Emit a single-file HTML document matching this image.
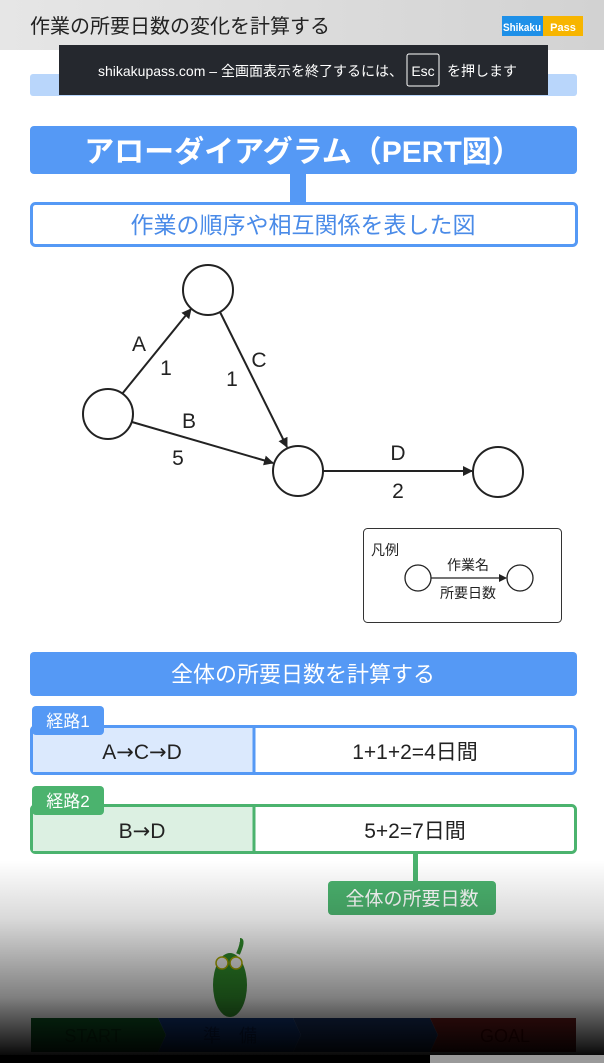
<!DOCTYPE html>
<html><head><meta charset="utf-8"><style>
html,body{margin:0;padding:0;width:604px;height:1063px;overflow:hidden;background:#fff}
svg{display:block}
text{font-family:"Liberation Sans","Noto Sans CJK JP",sans-serif}
.dj{font-family:"DejaVu Sans",sans-serif}
</style></head><body>
<svg width="604" height="1063" viewBox="0 0 604 1063" xmlns="http://www.w3.org/2000/svg">
<defs>
<linearGradient id="hd" x1="0" y1="0" x2="1" y2="0"><stop offset="0" stop-color="#e6e6e6"/><stop offset="1" stop-color="#d2d2d2"/></linearGradient>
<linearGradient id="fade" x1="0" y1="0" x2="0" y2="1"><stop offset="0" stop-color="#000" stop-opacity="0"/><stop offset="0.3" stop-color="#000" stop-opacity="0.15"/><stop offset="0.7" stop-color="#000" stop-opacity="0.5"/><stop offset="1" stop-color="#000" stop-opacity="0.97"/></linearGradient>
<marker id="ar" markerWidth="10" markerHeight="10" refX="9" refY="5" orient="auto" markerUnits="userSpaceOnUse"><path d="M0,0 L10,5 L0,10 z" fill="#222"/></marker>
<marker id="ar2" markerWidth="8" markerHeight="8" refX="7" refY="4" orient="auto" markerUnits="userSpaceOnUse"><path d="M0,0 L8,4 L0,8 z" fill="#222"/></marker>
</defs>
<rect x="0" y="0" width="604" height="50" fill="url(#hd)"/>
<text x="30" y="33" font-size="20" fill="#222">作業の所要日数の変化を計算する</text>
<rect x="502" y="16" width="41" height="20" fill="#1e90e8"/><rect x="543" y="16" width="40" height="20" fill="#f7b500"/>
<text x="522" y="31" font-size="11" font-weight="bold" fill="#fff" text-anchor="middle" textLength="38" lengthAdjust="spacingAndGlyphs">Shikaku</text><text x="563" y="31" font-size="11" font-weight="bold" fill="#fff" text-anchor="middle">Pass</text>
<rect x="30" y="74" width="547" height="22" rx="3" fill="#b9d6fb"/>
<rect x="59" y="45" width="489" height="50" fill="#25282e"/>
<text x="98" y="76" font-size="14" fill="#fff">shikakupass.com – 全画面表示を終了するには、</text>
<rect x="407" y="54" width="32" height="32" rx="2" fill="none" stroke="#fff" stroke-width="1"/>
<text x="423" y="76" font-size="14" fill="#fff" text-anchor="middle">Esc</text>
<text x="447" y="76" font-size="14" fill="#fff">を押します</text>
<rect x="30" y="126" width="547" height="48" rx="4" fill="#5599f5"/>
<text x="303" y="162" font-size="30" font-weight="bold" fill="#fff" text-anchor="middle">アローダイアグラム（PERT図）</text>
<rect x="290" y="174" width="16" height="30" fill="#5599f5"/>
<rect x="31.5" y="203.5" width="545" height="42" rx="4" fill="#fff" stroke="#5599f5" stroke-width="3"/>
<text x="303" y="233" font-size="23" fill="#4a8be8" text-anchor="middle">作業の順序や相互関係を表した図</text>
<g stroke="#222" stroke-width="2" fill="none">
<line x1="122" y1="394" x2="191" y2="309" marker-end="url(#ar)"/>
<line x1="220" y1="312" x2="287" y2="447" marker-end="url(#ar)"/>
<line x1="132" y1="422" x2="273" y2="463" marker-end="url(#ar)"/>
<line x1="323" y1="471" x2="472" y2="471" marker-end="url(#ar)"/>
<circle cx="208" cy="290" r="25" fill="#fff"/>
<circle cx="108" cy="414" r="25" fill="#fff"/>
<circle cx="298" cy="471" r="25" fill="#fff"/>
<circle cx="498" cy="472" r="25" fill="#fff"/>
</g>
<g font-size="21" fill="#222" text-anchor="middle">
<text x="139" y="351">A</text><text x="166" y="375">1</text>
<text x="259" y="367">C</text><text x="232" y="386">1</text>
<text x="189" y="428">B</text><text x="178" y="465">5</text>
<text x="398" y="460">D</text><text x="398" y="498">2</text>
</g>
<rect x="363.5" y="528.5" width="198" height="94" rx="4" fill="#fff" stroke="#333" stroke-width="1"/>
<text x="371" y="555" font-size="14" fill="#222">凡例</text>
<g stroke="#222" stroke-width="1.3" fill="#fff"><circle cx="418" cy="578" r="13"/><circle cx="520" cy="578" r="13"/>
<line x1="431" y1="578" x2="506" y2="578" marker-end="url(#ar2)"/></g>
<text x="468" y="570" font-size="14" fill="#222" text-anchor="middle">作業名</text>
<text x="468" y="598" font-size="14" fill="#222" text-anchor="middle">所要日数</text>
<rect x="30" y="652" width="547" height="44" rx="4" fill="#5599f5"/>
<text x="303" y="682" font-size="22" fill="#fff" text-anchor="middle">全体の所要日数を計算する</text>
<rect x="31.5" y="726.5" width="544" height="47" rx="4" fill="#fff" stroke="#5599f5" stroke-width="3"/>
<rect x="33" y="728" width="220" height="44" fill="#dbe9fd"/>
<line x1="254" y1="727" x2="254" y2="773" stroke="#5599f5" stroke-width="3"/>
<rect x="32" y="706" width="72" height="29" rx="4" fill="#5599f5"/>
<text x="68" y="727" font-size="17" fill="#fff" text-anchor="middle">経路1</text>
<text x="142" y="759" font-size="21" fill="#222" text-anchor="middle">A<tspan class="dj">→</tspan>C<tspan class="dj">→</tspan>D</text>
<text x="415" y="759" font-size="21" fill="#222" text-anchor="middle">1+1+2=4日間</text>
<rect x="31.5" y="805.5" width="544" height="47" rx="4" fill="#fff" stroke="#4bb36e" stroke-width="3"/>
<rect x="33" y="807" width="220" height="44" fill="#dcf0e2"/>
<line x1="254" y1="806" x2="254" y2="852" stroke="#4bb36e" stroke-width="3"/>
<rect x="32" y="786" width="72" height="29" rx="4" fill="#4bb36e"/>
<text x="68" y="807" font-size="17" fill="#fff" text-anchor="middle">経路2</text>
<text x="142" y="838" font-size="21" fill="#222" text-anchor="middle">B<tspan class="dj">→</tspan>D</text>
<text x="415" y="838" font-size="21" fill="#222" text-anchor="middle">5+2=7日間</text>
<rect x="413" y="853" width="5" height="30" fill="#4bb36e"/>
<rect x="328" y="881" width="168" height="34" rx="4" fill="#4bb36e"/>
<text x="412" y="905" font-size="19" fill="#fff" text-anchor="middle">全体の所要日数</text>
<g>
<polygon points="31,1018 158,1018 166,1035 158,1052 31,1052" fill="#0f5a25"/>
<polygon points="158,1018 293,1018 301,1035 293,1052 158,1052 166,1035" fill="#123a80"/>
<polygon points="293,1018 430,1018 438,1035 430,1052 293,1052 301,1035" fill="#1a3466"/>
<polygon points="430,1018 576,1018 576,1052 430,1052 438,1035" fill="#701c1c"/>
<text x="93" y="1042" font-size="18" fill="#0a3a15" text-anchor="middle">START</text>
<text x="230" y="1042" font-size="18" fill="#0a2050" text-anchor="middle">準　備</text>
<text x="505" y="1042" font-size="18" fill="#400" text-anchor="middle">GOAL</text>
<ellipse cx="230" cy="985" rx="17" ry="32" fill="#2f8a2a"/>
<circle cx="222" cy="963" r="6" fill="#eee" stroke="#aa0" stroke-width="1.5"/><circle cx="236" cy="963" r="6" fill="#eee" stroke="#aa0" stroke-width="1.5"/>
<path d="M238,954 Q244,940 240,940" stroke="#2f8a2a" stroke-width="4" fill="none"/>
</g>
<rect x="0" y="860" width="604" height="196" fill="url(#fade)"/>
<rect x="0" y="1055" width="430" height="8" fill="#000"/>
<rect x="430" y="1055" width="174" height="8" fill="#9a9a9a"/>
</svg>
</body></html>
